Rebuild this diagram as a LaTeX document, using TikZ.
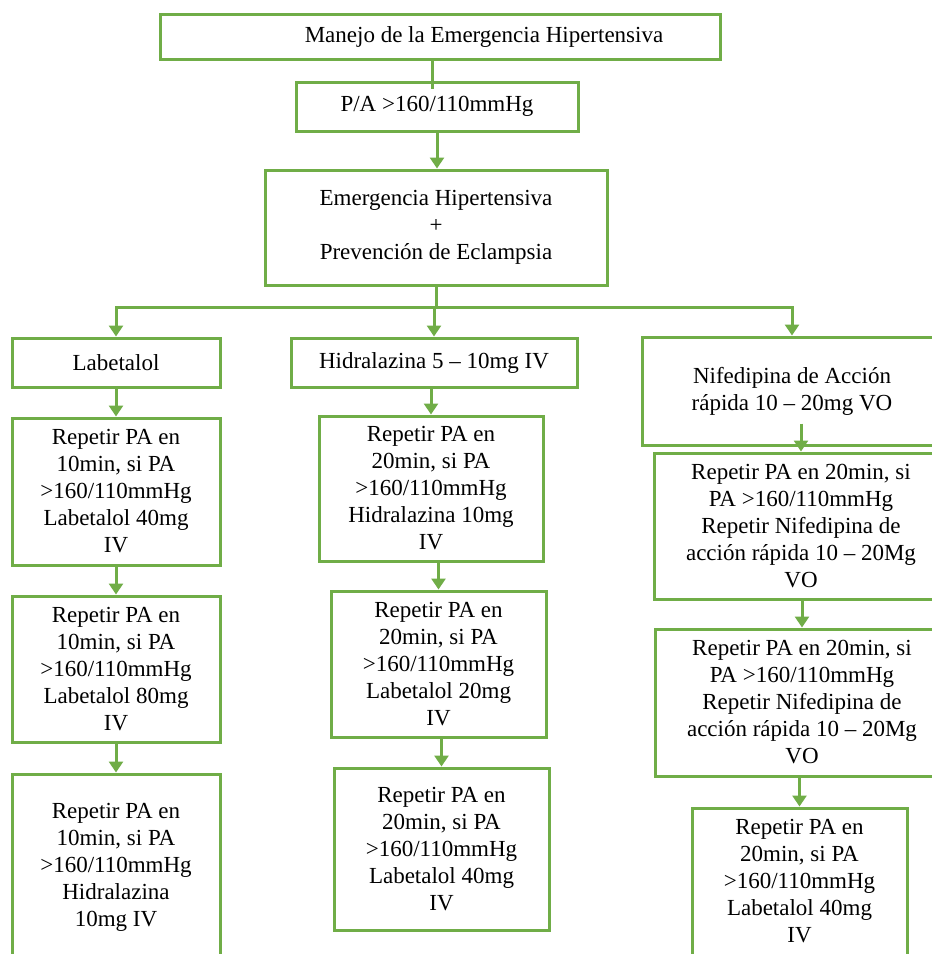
\documentclass[tikz,border=0pt]{standalone}
\usepackage{fontspec}
\setmainfont{Liberation Serif}
\usepackage{tikz}
\usetikzlibrary{arrows.meta,calc}
\definecolor{verdecaja}{RGB}{112,173,71}

\begin{document}
\begin{tikzpicture}[x=1pt, y=-1pt,
    caja/.style={draw=verdecaja, line width=3pt, fill=white, align=center,
        inner sep=0pt, font=\fontsize{23}{27}\selectfont},
    linea/.style={draw=verdecaja, line width=3pt},
    flecha/.style={linea, -{Triangle[length=11pt,width=14pt]}}]

    % Page and clip (boxes on the right and bottom run off the page)
    \useasboundingbox (0,0) rectangle (932,954);
    \clip (0,0) rectangle (932,954);
    \fill[white] (0,0) rectangle (932,954);

    % Top of the chart
    \node[caja, minimum width=560pt, minimum height=45pt] (manejo) at (440,36.5)
        {\hspace*{88pt}Manejo de la Emergencia Hipertensiva};
    \node[caja, minimum width=282pt, minimum height=49pt] (pa) at (437,106.5)
        {P/A >160/110mmHg};
    \node[caja, minimum width=342pt, minimum height=115pt] (emerg) at (436,227.5)
        {Emergencia Hipertensiva\\+\\Prevención de Eclampsia};

    % Labetalol column
    \node[caja, minimum width=208pt, minimum height=49pt] (lab) at (116,362.5)
        {Labetalol};
    \node[caja, minimum width=208pt, minimum height=147pt] (lab1) at (116,491.5)
        {Repetir PA en\\10min, si PA\\>160/110mmHg\\Labetalol 40mg\\IV};
    \node[caja, minimum width=208pt, minimum height=146pt] (lab2) at (116,669)
        {Repetir PA en\\10min, si PA\\>160/110mmHg\\Labetalol 80mg\\IV};
    \node[caja, minimum width=208pt, minimum height=186pt] (lab3) at (116,867)
        {Repetir PA en\\10min, si PA\\>160/110mmHg\\Hidralazina\\10mg IV};

    % Hidralazina column
    \node[caja, minimum width=286pt, minimum height=49pt] (hid) at (434,362.5)
        {Hidralazina 5 – 10mg IV};
    \node[caja, minimum width=224pt, minimum height=145pt] (hid1) at (431,488.5)
        {Repetir PA en\\20min, si PA\\>160/110mmHg\\Hidralazina 10mg\\IV};
    \node[caja, minimum width=215pt, minimum height=146pt] (hid2) at (438.5,664)
        {Repetir PA en\\20min, si PA\\>160/110mmHg\\Labetalol 20mg\\IV};
    \node[caja, minimum width=215pt, minimum height=162pt] (hid3) at (441.5,849)
        {Repetir PA en\\20min, si PA\\>160/110mmHg\\Labetalol 40mg\\IV};

    % Nifedipina column
    \node[caja, minimum width=300pt, minimum height=108pt] (nif) at (792,391)
        {Nifedipina de Acción\\rápida 10 – 20mg VO};
    \node[caja, minimum width=294pt, minimum height=146pt] (nif1) at (801,526)
        {Repetir PA en 20min, si\\PA >160/110mmHg\\Repetir Nifedipina de\\acción rápida 10 – 20Mg\\VO};
    \node[caja, minimum width=294pt, minimum height=147pt] (nif2) at (802,702.5)
        {Repetir PA en 20min, si\\PA >160/110mmHg\\Repetir Nifedipina de\\acción rápida 10 – 20Mg\\VO};
    \node[caja, minimum width=215pt, minimum height=147pt] (nif3) at (799.5,881.5)
        {Repetir PA en\\20min, si PA\\>160/110mmHg\\Labetalol 40mg\\IV};

    % Connectors
    \draw[linea] ($(manejo.south)+(-8,0)$) -- ($(manejo.south |- pa.north)+(-8,8)$);
    \draw[flecha] (pa.south) -- (pa.south |- emerg.north);
    \coordinate (rama) at ($(emerg.south)+(0,21)$);
    \draw[linea] (emerg.south) -- (rama);
    \foreach \destino in {lab, hid, nif}
        \draw[flecha] (rama) -| (\destino.north);
    \foreach \desde/\hasta in {lab/lab1, lab1/lab2, lab2/lab3, hid/hid1, hid1/hid2,
                               hid2/hid3, nif1/nif2, nif2/nif3}
        \draw[flecha] (\hasta.north |- \desde.south) -- (\hasta.north);
    \draw[flecha] ($(nif1.north)+(0,-28)$) -- (nif1.north);

\end{tikzpicture}
\end{document}
